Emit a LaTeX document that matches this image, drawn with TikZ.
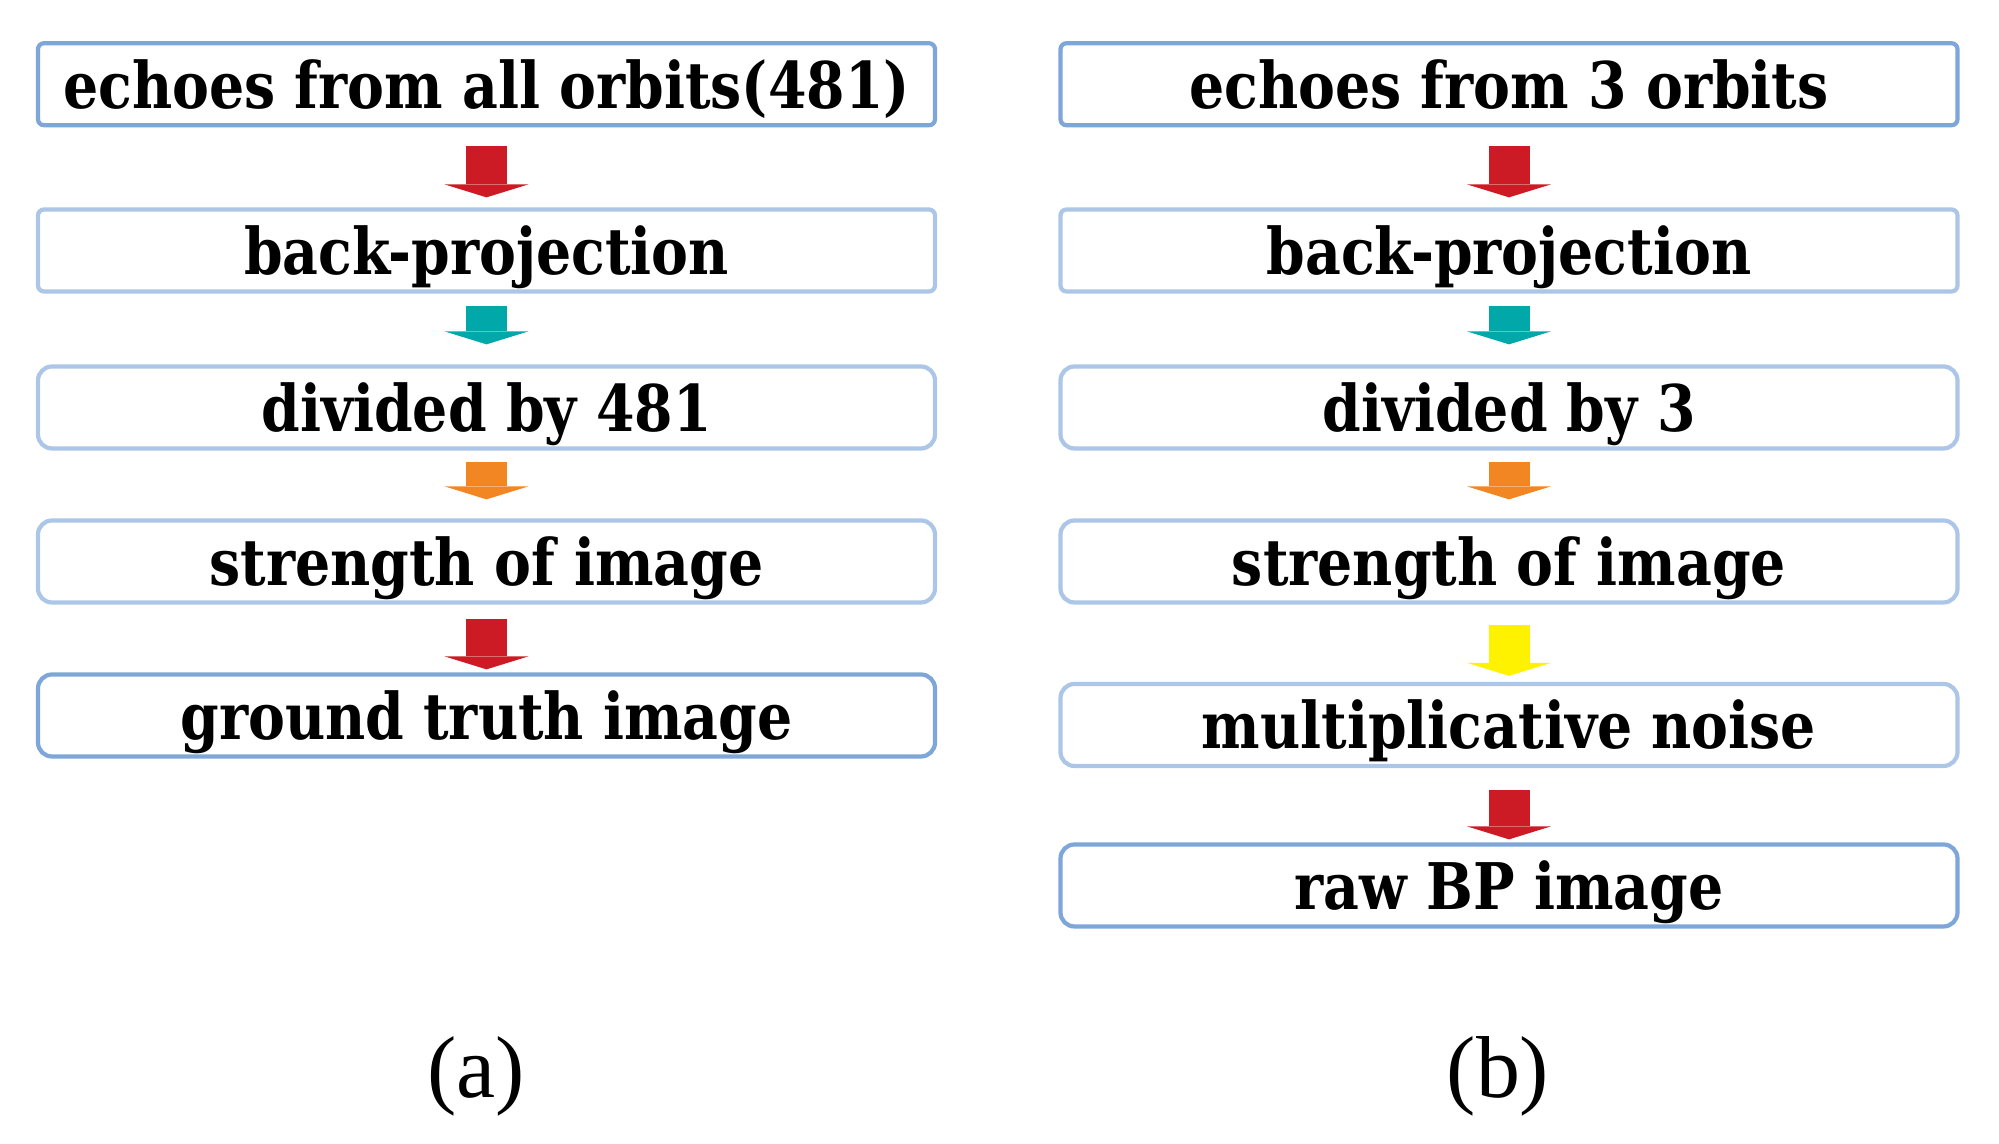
\documentclass[tikz,border=0pt]{standalone}
\usepackage{fontspec}
\usepackage{tikz}
\usetikzlibrary{arrows.meta}
\newfontfamily\stagefont[FakeStretch=0.86]{DejaVu Serif}
\newfontfamily\capfont{Liberation Serif}
\definecolor{edgedark}{RGB}{126,166,216}
\definecolor{edgelight}{RGB}{172,198,231}
\definecolor{flowred}{RGB}{204,27,36}
\definecolor{flowteal}{RGB}{0,168,170}
\definecolor{floworange}{RGB}{242,134,34}
\definecolor{flowyellow}{RGB}{255,242,0}

\begin{document}
\begin{tikzpicture}
\tikzstyle{every node}+=[inner sep=0pt]
\tikzstyle{stage}=[draw=edgelight, line width=1.2pt, rounded corners=0.14cm, minimum width=8.97cm, minimum height=0.82cm, text height=0.48cm, text depth=0pt, font=\stagefont\bfseries\fontsize{18.3}{18.3}\selectfont]
\tikzstyle{endstage}=[stage, draw=edgedark]
\tikzstyle{flow}=[line width=0.41cm, -{Triangle[width=0.84cm, length=0.13cm, line width=0pt]}]
\useasboundingbox (0,0) rectangle (19.99,11.44);
% (a) left column
\node [endstage, rounded corners=0.06cm] (l1) at (4.865,10.5975) {echoes from all orbits(481)};
\node [stage, rounded corners=0.06cm] (l2) at (4.865,8.935) {back-projection};
\node [stage] (l3) at (4.865,7.365) {divided by 481};
\node [stage] (l4) at (4.865,5.825) {strength of image};
\node [endstage] (l5) at (4.865,4.285) {ground truth image};
\draw [flow, flowred] ([yshift=-0.185cm]l1.south) -- ([yshift=0.10cm]l2.north);
\draw [flow, flowteal] ([yshift=-0.12cm]l2.south) -- ([yshift=0.20cm]l3.north);
\draw [flow, floworange] ([yshift=-0.11cm]l3.south) -- ([yshift=0.19cm]l4.north);
\draw [flow, flowred] ([yshift=-0.14cm]l4.south) -- ([yshift=0.03cm]l5.north);
\node [font=\capfont\fontsize{25}{25}\selectfont] (capa) at (4.76,0.68) {(a)};
% (b) right column
\node [endstage, rounded corners=0.06cm] (r1) at (15.09,10.5975) {echoes from 3 orbits};
\node [stage, rounded corners=0.06cm] (r2) at (15.09,8.935) {back-projection};
\node [stage] (r3) at (15.09,7.365) {divided by 3};
\node [stage] (r4) at (15.09,5.825) {strength of image};
\node [stage] (r5) at (15.09,4.19) {multiplicative noise};
\node [endstage] (r6) at (15.09,2.585) {raw BP image};
\draw [flow, flowred] ([yshift=-0.185cm]r1.south) -- ([yshift=0.10cm]r2.north);
\draw [flow, flowteal] ([yshift=-0.12cm]r2.south) -- ([yshift=0.20cm]r3.north);
\draw [flow, floworange] ([yshift=-0.11cm]r3.south) -- ([yshift=0.19cm]r4.north);
\draw [flow, flowyellow] ([yshift=-0.20cm]r4.south) -- ([yshift=0.06cm]r5.north);
\draw [flow, flowred] ([yshift=-0.22cm]r5.south) -- ([yshift=0.03cm]r6.north);
\node [font=\capfont\fontsize{25}{25}\selectfont] (capb) at (14.98,0.68) {(b)};
\end{tikzpicture}
\end{document}
